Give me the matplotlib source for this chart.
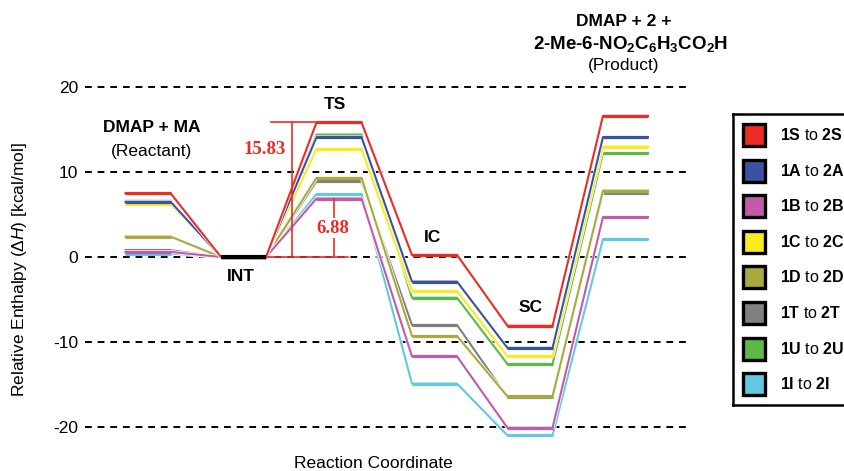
import matplotlib
matplotlib.use('Agg')
import matplotlib.pyplot as plt
import matplotlib.patheffects as pe
from matplotlib.patches import Rectangle

plt.rcParams['font.family'] = ['Liberation Sans', 'DejaVu Sans']
plt.rcParams['mathtext.fontset'] = 'custom'
plt.rcParams['mathtext.rm'] = 'Liberation Sans'
plt.rcParams['mathtext.it'] = 'Liberation Sans:italic'
plt.rcParams['mathtext.bf'] = 'Liberation Sans:bold'
plt.rcParams['axes.unicode_minus'] = False

# Relative enthalpies (kcal/mol) at each stationary point
stages = ['Reactant', 'INT', 'TS', 'IC', 'SC', 'Product']
series = ['S', 'A', 'B', 'C', 'D', 'T', 'U', 'I']
colors = ['#ED2B25', '#3B52A3', '#C15BA7', '#F8EC1E', '#A9A93C', '#808080', '#5CB947', '#62C9DF']
reactant = [7.5, 6.5, 0.6, 6.2, 2.4, 0.8, 6.6, 0.4]
int_ = [0, 0, 0, 0, 0, 0, 0, 0]
ts = [15.83, 14.1, 6.88, 12.7, 9.3, 8.9, 14.4, 7.4]
ic = [0.24, -2.9, -11.7, -4.0, -9.3, -8.0, -4.8, -14.9]
sc = [-8.1, -10.7, -20.1, -11.7, -16.4, -16.5, -12.6, -21.0]
product = [16.6, 14.1, 4.7, 13.0, 7.8, 7.5, 12.2, 2.1]
yticks = [-20, -10, 0, 10, 20]

levels = [reactant, int_, ts, ic, sc, product]
w = 0.236

fig = plt.figure(figsize=(8.45, 4.71), dpi=100)
ax = fig.add_axes([85 / 845, 0, 604 / 845, 1])
ax.set_xlim(-0.66, 5.665)
ax.set_ylim(-25.18, 30.24)
for s in ax.spines.values():
    s.set_visible(False)
ax.set_xticks([])
ax.set_yticks(yticks)
ax.tick_params(axis='y', length=0, pad=5, labelsize=12.5)
ax.grid(axis='y', color='black', linestyle=(0, (3.5, 3)), linewidth=1.4)
ax.set_axisbelow(True)

# draw each pathway, red on top
for i in reversed(range(len(series))):
    xs, ys = [], []
    for k, lev in enumerate(levels):
        xs += [k - w, k + w]
        ys += [lev[i], lev[i]]
    ax.plot(xs, ys, color=colors[i], lw=1.5, zorder=3 + (8 - i) * 0.1,
            path_effects=[pe.Stroke(linewidth=2.6, foreground='white'), pe.Normal()])
    for k, lev in enumerate(levels):
        ax.plot([k - w, k + w], [lev[i], lev[i]], color=colors[i], lw=2.3,
                solid_capstyle='butt', zorder=3 + (8 - i) * 0.1)

ax.plot([1 - w, 1 + w], [0, 0], color='black', lw=3, solid_capstyle='butt', zorder=5)

# barrier annotations
red = colors[0]
ax.plot([1.285, 2 - w], [ts[0], ts[0]], color=red, lw=1.2, zorder=4.5)
ax.plot([1 + w, 2.094], [0, 0], color=red, lw=1.2, zorder=4.5)
ax.plot([1.505, 1.505], [0, ts[0]], color=red, lw=1.2, zorder=4.5)
ax.plot([1.951, 1.951], [0, ts[2]], color=red, lw=1.2, zorder=4.5)
ax.text(1.22, 12.7, f'{ts[0]:.2f}', color=red, fontsize=13.5, fontweight='bold',
        family='Liberation Serif', ha='center', va='center', zorder=6)
ax.text(1.94, 3.4, f'{ts[2]:.2f}', color=red, fontsize=13.5, fontweight='bold',
        family='Liberation Serif', ha='center', va='center', zorder=6,
        bbox=dict(facecolor='white', edgecolor='none', pad=1))

# stage labels
fs = 12.5
bold = dict(fontsize=fs, fontweight='bold', ha='center', va='center', zorder=6)
ax.text(0.04, 15.2, 'DMAP + MA', **bold)
ax.text(0.04, 12.45, '(Reactant)', fontsize=fs, ha='center', va='center')
ax.text(0.97, -2.35, 'INT', **bold)
ax.text(1.96, 18.0, 'TS', **bold)
ax.text(2.98, 2.35, 'IC', **bold)
ax.text(4.01, -6.0, 'SC', **bold)
ax.text(4.98, 27.75, 'DMAP + 2 +', clip_on=False, **bold)
ax.text(5.05, 25.05,
        r'2-Me-6-NO$_\mathbf{2}$C$_\mathbf{6}$H$_\mathbf{3}$CO$_\mathbf{2}$H',
        clip_on=False, fontsize=13.5, fontweight='bold', ha='center', va='center')
ax.text(4.98, 22.55, '(Product)', fontsize=fs, ha='center', va='center')

fig.text(20 / 845, 1 - 270 / 471, r'Relative Enthalpy (Δ$\mathit{H}$) [kcal/mol]',
         rotation=90, ha='center', va='center', fontsize=12.5)
fig.text(373 / 845, 1 - 463 / 471, 'Reaction Coordinate', ha='center', va='center',
         fontsize=12.5)

# legend box
lax = fig.add_axes([733 / 845, 1 - 405 / 471, 130 / 845, 291 / 471])
lax.set_xlim(0, 130)
lax.set_ylim(291, 0)
lax.set_xticks([])
lax.set_yticks([])
for s in lax.spines.values():
    s.set_linewidth(1.8)
for i, name in enumerate(series):
    yc = 21 + i * 35.6
    lax.add_patch(Rectangle((10, yc - 11), 22, 22, facecolor=colors[i],
                            edgecolor='black', linewidth=2.4))
    lax.text(47, yc, rf'$\mathbf{{1{name}}}$ to $\mathbf{{2{name}}}$',
             fontsize=11.5, va='center', ha='left')

fig.savefig('out.png', dpi=100)
